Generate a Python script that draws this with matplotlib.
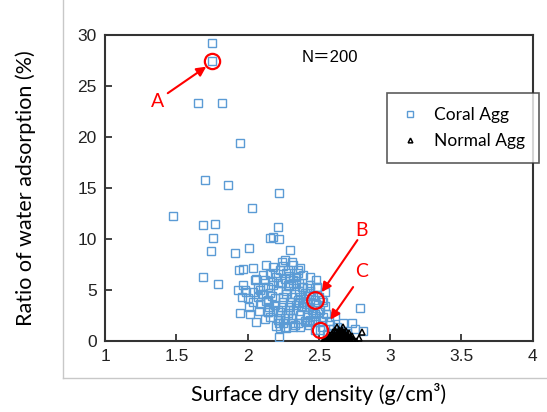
import numpy as np
import matplotlib.pyplot as plt
from matplotlib.lines import Line2D

# Coral aggregate: surface dry density (g/cm3) vs water adsorption (%)
coral_x = [1.75, 1.75, 1.65, 1.82, 1.95, 1.70, 1.86, 2.22, 1.48, 2.03,
           1.69, 1.77, 2.21, 1.76, 2.16, 2.18, 2.22, 2.01, 1.74, 1.91,
           2.30, 1.69, 1.79,
           1.94, 1.97, 2.04, 2.13, 2.18, 2.24, 2.26, 2.31, 2.23, 2.28,
           2.11, 2.16, 2.35, 2.19, 2.25, 2.32, 2.35, 2.27, 2.30, 2.32,
           2.34, 2.36, 2.38, 2.42, 2.44, 2.49, 2.54, 2.37,
           1.93, 1.97, 2.07, 2.14, 2.18, 2.21, 1.96, 2.04, 2.09, 2.14,
           2.23, 2.28, 1.95, 2.02, 2.22, 2.23, 2.27, 2.22,
           1.98, 2.04, 2.11, 2.24, 2.28, 2.32, 2.39, 2.44, 2.49,
           2.00, 2.07, 2.14, 2.19, 2.25, 2.30, 2.35, 2.39, 2.44,
           2.14, 2.23, 2.28, 2.32, 2.37, 2.42, 2.46, 2.53,
           2.23, 2.26, 2.32, 2.37, 2.42, 2.47, 2.52,
           2.47, 2.52, 2.54, 2.51, 2.37, 2.39, 2.42, 2.45, 2.42, 2.44, 2.47,
           2.09, 2.16, 2.21, 2.25, 2.30, 2.35, 2.14, 2.21, 2.25, 2.32,
           2.79, 2.81, 2.73, 2.67, 2.58, 2.63, 2.51, 2.60, 2.56, 2.70, 2.75, 2.66,
           2.06, 2.12, 2.17, 2.20, 2.26, 2.29, 2.33, 2.36, 2.40, 2.43,
           2.46, 2.50, 2.48, 2.41, 2.38, 2.34, 2.29, 2.24, 2.19, 2.15,
           2.10, 2.08, 2.13, 2.18, 2.27, 2.31, 2.36, 2.40, 2.45, 2.50,
           2.53, 2.55, 2.48, 2.43, 2.33, 2.26, 2.20, 2.16, 2.12, 2.06,
           2.01, 1.99, 2.05, 2.29, 2.34, 2.39, 2.44, 2.48, 2.57, 2.61,
           2.40, 2.31, 2.27, 2.17, 2.11, 2.47, 2.52, 2.36, 2.43, 2.21]
coral_y = [29.2, 27.5, 23.3, 23.3, 19.4, 15.8, 15.3, 14.5, 12.3, 13.0,
           11.4, 11.5, 11.2, 10.1, 10.1, 10.2, 10.0, 9.1, 8.8, 8.6,
           8.9, 6.3, 5.6,
           7.0, 7.1, 7.2, 7.5, 7.3, 7.8, 8.0, 7.8, 7.0, 7.0,
           6.5, 6.6, 7.0, 6.7, 7.4, 7.5, 6.7, 6.7, 6.2, 6.0,
           5.6, 5.7, 5.3, 5.2, 4.9, 5.3, 4.8, 7.2,
           5.0, 5.5, 5.2, 5.3, 5.5, 5.7, 4.3, 3.8, 3.6, 2.9,
           2.6, 2.8, 2.8, 2.7, 1.8, 1.3, 1.3, 0.4,
           5.0, 4.8, 5.3, 5.7, 5.5, 5.7, 5.3, 5.5, 5.3,
           4.2, 4.3, 4.0, 4.2, 3.8, 3.8, 4.0, 3.8, 3.8,
           2.9, 2.9, 2.6, 3.1, 2.6, 2.4, 2.8, 2.4,
           2.1, 1.4, 1.8, 1.4, 1.9, 1.1, 1.4,
           4.0, 4.0, 3.4, 3.1, 4.3, 3.8, 3.6, 3.1, 2.6, 2.1, 2.1,
           5.0, 4.7, 5.0, 4.3, 3.1, 1.8, 3.8, 2.1, 1.8, 1.4,
           3.2, 1.0, 1.8, 1.8, 1.6, 1.4, 1.1, 1.2, 0.7, 0.8, 1.2, 1.0,
           6.1, 6.0, 5.9, 6.3, 6.1, 5.4, 4.6, 4.9, 4.7, 4.4,
           4.5, 4.3, 3.6, 3.3, 3.4, 3.5, 3.3, 3.3, 3.5, 3.3,
           4.6, 3.0, 3.9, 3.0, 4.6, 2.3, 2.2, 2.0, 2.0, 2.9,
           3.8, 2.7, 2.5, 1.6, 1.6, 2.3, 1.5, 2.4, 2.2, 1.9,
           3.3, 4.8, 6.0, 6.4, 6.3, 6.5, 6.3, 6.0, 2.0, 2.5,
           4.1, 4.3, 4.9, 4.4, 4.6, 2.7, 2.0, 3.7, 3.3, 3.1]

# Normal aggregate
normal_x = [2.53, 2.55, 2.57, 2.58, 2.59, 2.60, 2.61, 2.62, 2.63, 2.64,
            2.65, 2.66, 2.67, 2.68, 2.69, 2.70, 2.71, 2.72, 2.74, 2.76,
            2.54, 2.56, 2.58, 2.60, 2.61, 2.62, 2.63, 2.64, 2.65, 2.66,
            2.67, 2.68, 2.69, 2.70, 2.72, 2.74,
            2.56, 2.58, 2.60, 2.62, 2.63, 2.64, 2.65, 2.66, 2.67, 2.68,
            2.70, 2.72,
            2.58, 2.60, 2.62, 2.64, 2.65, 2.66, 2.68, 2.70, 2.73,
            2.60, 2.62, 2.64, 2.66, 2.68, 2.71,
            2.61, 2.64, 2.66, 2.69, 2.63, 2.67, 2.78, 2.80]
normal_y = [0.05, 0.08, 0.03, 0.06, 0.10, 0.04, 0.07, 0.02, 0.09, 0.05,
            0.03, 0.08, 0.06, 0.04, 0.10, 0.05, 0.07, 0.03, 0.06, 0.05,
            0.22, 0.25, 0.18, 0.27, 0.21, 0.30, 0.19, 0.26, 0.23, 0.28,
            0.20, 0.24, 0.29, 0.18, 0.22, 0.20,
            0.42, 0.45, 0.38, 0.47, 0.41, 0.50, 0.39, 0.46, 0.43, 0.40,
            0.44, 0.37,
            0.62, 0.65, 0.58, 0.68, 0.61, 0.70, 0.64, 0.60, 0.55,
            0.85, 0.88, 0.82, 0.90, 0.84, 0.78,
            1.10, 1.12, 1.05, 1.00, 1.40, 1.35, 0.30, 0.90]

x_ticks = [1, 1.5, 2, 2.5, 3, 3.5, 4]
y_ticks = [0, 5, 10, 15, 20, 25, 30]

lab_font = ['Lato', 'DejaVu Sans']
plt.rcParams['font.family'] = ['Liberation Sans', 'DejaVu Sans']

fig = plt.figure(figsize=(5.47, 4.12), dpi=100)
ax = fig.add_axes([0.192, 0.172, 0.782, 0.743])

# light grey chart-area border (left and bottom)
fig.add_artist(Line2D([63/547, 63/547], [1, 1 - 378/412], color='#c8c8c8', lw=1))
fig.add_artist(Line2D([63/547, 1], [1 - 378/412, 1 - 378/412], color='#c8c8c8', lw=1))

ax.plot(coral_x, coral_y, 's', ms=6, mfc='none', mec='#5B9BD5', mew=1.0,
        label='Coral Agg', zorder=3)
ax.plot(normal_x, normal_y, '^', ms=4.5, mfc='none', mec='black', mew=1.1,
        label='Normal Agg', zorder=4)

# circled samples
ax.plot([1.75], [27.45], 'o', ms=11, mfc='none', mec='#FF0000', mew=1.6, zorder=5)
ax.plot([2.47], [4.0], 'o', ms=12, mfc='none', mec='#FF0000', mew=1.6, zorder=5)
ax.plot([2.51], [1.05], 'o', ms=11, mfc='none', mec='#FF0000', mew=1.6, zorder=5)

arrow = dict(arrowstyle='-|>', color='#FF0000', lw=1.5, mutation_scale=14,
             shrinkA=0, shrinkB=0)
ax.annotate('', xy=(1.71, 26.9), xytext=(1.44, 24.3), arrowprops=arrow)
ax.annotate('', xy=(2.52, 4.8), xytext=(2.77, 9.9), arrowprops=arrow)
ax.annotate('', xy=(2.58, 2.1), xytext=(2.74, 5.3), arrowprops=arrow)
ax.text(1.37, 23.5, 'A', color='#FF0000', fontsize=14, ha='center', va='center',
        family=lab_font)
ax.text(2.80, 10.8, 'B', color='#FF0000', fontsize=14, ha='center', va='center',
        family=lab_font)
ax.text(2.80, 6.8, 'C', color='#FF0000', fontsize=14, ha='center', va='center',
        family=lab_font)

ax.text(2.58, 27.8, 'N＝200', fontsize=12, ha='center', va='center',
        family=['Liberation Sans', 'Noto Sans CJK JP'])

ax.set_xlim(1, 4)
ax.set_ylim(0, 30)
ax.set_xticks(x_ticks)
ax.set_xticklabels(['1', '1.5', '2', '2.5', '3', '3.5', '4'])
ax.set_yticks(y_ticks)
ax.tick_params(direction='in', length=5, width=1.2, labelsize=12.5, colors='#222222',
               top=False, right=False, pad=6)
for s in ax.spines.values():
    s.set_color('#333333')
    s.set_linewidth(1.5)

ax.set_xlabel('Surface dry density (g/cm³)', fontsize=15.5, family=lab_font, labelpad=13)
ax.set_ylabel('Ratio of water adsorption (%)', fontsize=15.5, family=lab_font, labelpad=30)

leg = ax.legend(loc='upper left', bbox_to_anchor=(0.64, 0.838),
                frameon=True, fancybox=False, edgecolor='#333333', borderpad=0.8,
                handlelength=1.0, handletextpad=0.9, markerscale=0.75,
                labelspacing=0.55, prop={'family': lab_font, 'size': 12.5})
leg.get_frame().set_linewidth(1.2)

fig.savefig('out.png', dpi=100)
